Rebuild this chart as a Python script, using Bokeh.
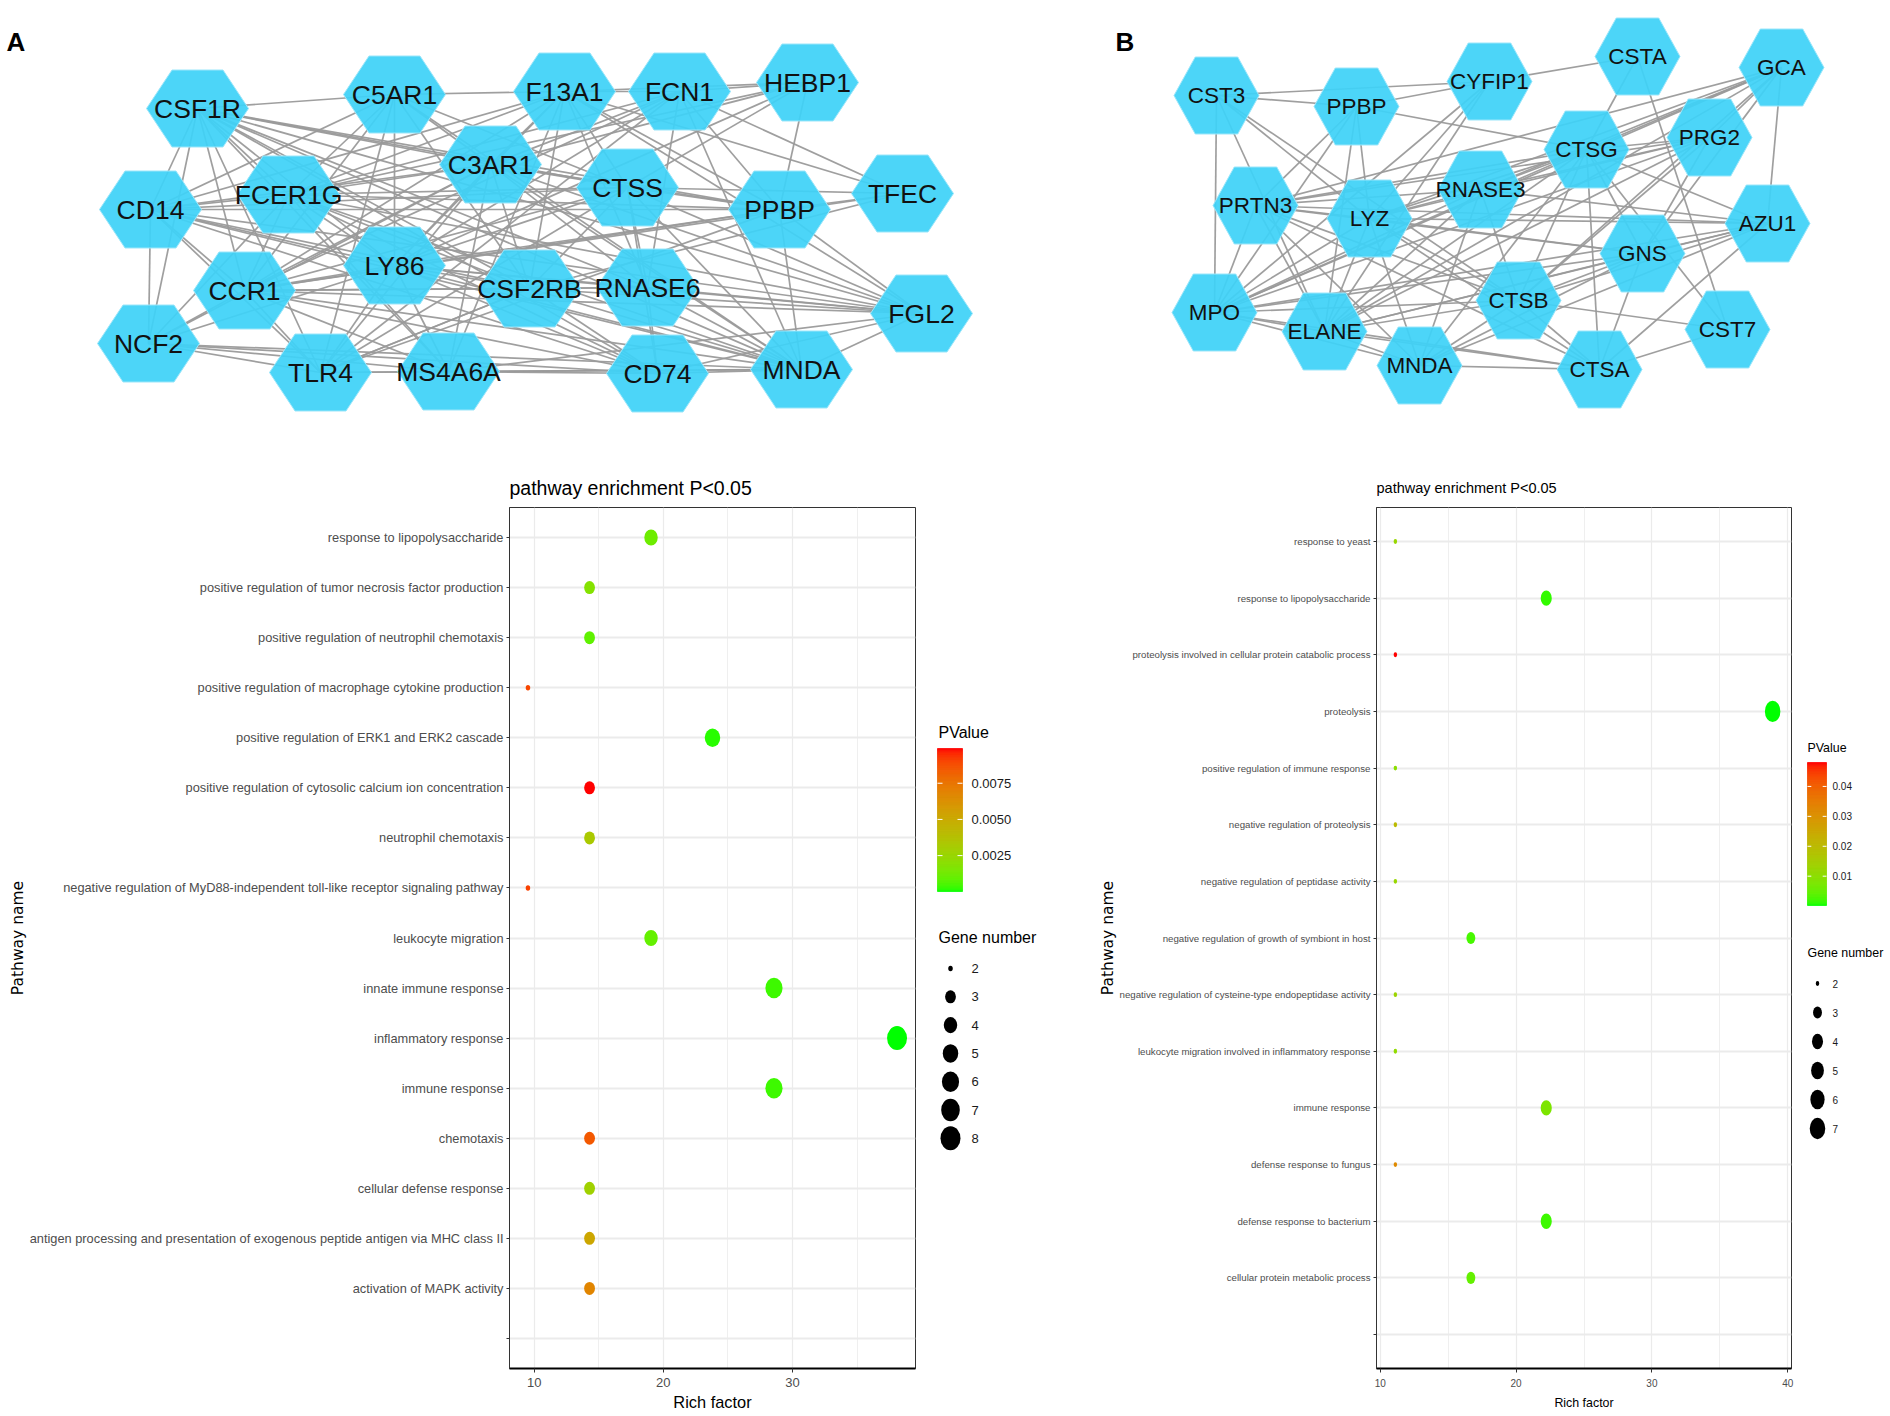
import numpy as np
from bokeh.plotting import figure
from bokeh.models import ColumnDataSource, Range1d, FixedTicker
from bokeh.layouts import column, row
from bokeh.transform import linear_cmap
from bokeh.core.properties import value
from bokeh.embed import file_html
from bokeh.resources import INLINE

# ---------------- network A ----------------
A_nodes = ["CSF1R", "C5AR1", "F13A1", "FCN1", "HEBP1", "C3AR1", "CTSS", "CD14", "FCER1G",
           "PPBP", "TFEC", "LY86", "CCR1", "CSF2RB", "RNASE6", "FGL2", "NCF2", "TLR4",
           "MS4A6A", "CD74", "MNDA"]
A_node_x = [197, 394, 564, 679, 807, 490, 627, 150, 288, 779, 902, 394, 244, 529, 647, 921,
            148, 320, 448, 657, 801]
A_node_y = [108, 94, 91, 91, 82, 164, 187, 209, 194, 209, 193, 265, 290, 288, 287, 313,
            343, 372, 371, 373, 369]
A_edges = [
    ("CSF1R", "C5AR1"), ("CSF1R", "CD14"), ("CSF1R", "CCR1"), ("CSF1R", "FCER1G"), ("CSF1R", "LY86"),
    ("CSF1R", "C3AR1"), ("CSF1R", "CTSS"), ("CSF1R", "PPBP"), ("CSF1R", "TLR4"), ("CSF1R", "MS4A6A"),
    ("CSF1R", "CSF2RB"), ("CSF1R", "RNASE6"), ("CSF1R", "FGL2"), ("CSF1R", "MNDA"), ("CSF1R", "CD74"),
    ("CSF1R", "NCF2"),
    ("C5AR1", "F13A1"), ("C5AR1", "C3AR1"), ("C5AR1", "FCER1G"), ("C5AR1", "LY86"), ("C5AR1", "CCR1"),
    ("C5AR1", "CD14"), ("C5AR1", "CTSS"), ("C5AR1", "CSF2RB"), ("C5AR1", "TLR4"), ("C5AR1", "MNDA"),
    ("F13A1", "FCN1"), ("F13A1", "HEBP1"), ("F13A1", "C3AR1"), ("F13A1", "CTSS"), ("F13A1", "FCER1G"),
    ("F13A1", "LY86"), ("F13A1", "CCR1"), ("F13A1", "CSF2RB"), ("F13A1", "RNASE6"), ("F13A1", "PPBP"),
    ("F13A1", "TFEC"), ("F13A1", "FGL2"), ("F13A1", "MS4A6A"), ("F13A1", "CD14"),
    ("FCN1", "HEBP1"), ("FCN1", "C3AR1"), ("FCN1", "FCER1G"), ("FCN1", "LY86"), ("FCN1", "CCR1"),
    ("FCN1", "RNASE6"), ("FCN1", "TFEC"), ("FCN1", "PPBP"), ("FCN1", "MNDA"), ("FCN1", "TLR4"),
    ("HEBP1", "PPBP"), ("HEBP1", "CTSS"), ("HEBP1", "C3AR1"), ("HEBP1", "FCER1G"), ("HEBP1", "LY86"),
    ("C3AR1", "CTSS"), ("C3AR1", "LY86"), ("C3AR1", "FCER1G"), ("C3AR1", "CCR1"), ("C3AR1", "CSF2RB"),
    ("C3AR1", "RNASE6"), ("C3AR1", "CD14"), ("C3AR1", "NCF2"), ("C3AR1", "TLR4"), ("C3AR1", "MS4A6A"),
    ("C3AR1", "MNDA"), ("C3AR1", "FGL2"), ("C3AR1", "PPBP"),
    ("CTSS", "RNASE6"), ("CTSS", "LY86"), ("CTSS", "CCR1"), ("CTSS", "CSF2RB"), ("CTSS", "FCER1G"),
    ("CTSS", "PPBP"), ("CTSS", "TFEC"), ("CTSS", "FGL2"), ("CTSS", "MNDA"), ("CTSS", "CD74"),
    ("CTSS", "CD14"), ("CTSS", "TLR4"),
    ("CD14", "FCER1G"), ("CD14", "LY86"), ("CD14", "CCR1"), ("CD14", "CSF2RB"), ("CD14", "MNDA"),
    ("CD14", "FGL2"), ("CD14", "TLR4"), ("CD14", "CD74"), ("CD14", "PPBP"), ("CD14", "NCF2"),
    ("FCER1G", "LY86"), ("FCER1G", "CCR1"), ("FCER1G", "PPBP"), ("FCER1G", "MNDA"), ("FCER1G", "FGL2"),
    ("FCER1G", "CD74"), ("FCER1G", "MS4A6A"), ("FCER1G", "NCF2"), ("FCER1G", "CSF2RB"),
    ("PPBP", "TFEC"), ("PPBP", "FGL2"), ("PPBP", "MNDA"), ("PPBP", "LY86"), ("PPBP", "TLR4"),
    ("PPBP", "CCR1"), ("TFEC", "CCR1"), ("TFEC", "CSF2RB"),
    ("LY86", "CCR1"), ("LY86", "CSF2RB"), ("LY86", "RNASE6"), ("LY86", "TLR4"), ("LY86", "MS4A6A"),
    ("LY86", "CD74"), ("LY86", "MNDA"), ("LY86", "FGL2"), ("LY86", "NCF2"),
    ("CCR1", "CSF2RB"), ("CCR1", "RNASE6"), ("CCR1", "NCF2"), ("CCR1", "TLR4"), ("CCR1", "MS4A6A"),
    ("CCR1", "CD74"), ("CCR1", "MNDA"), ("CCR1", "FGL2"),
    ("CSF2RB", "RNASE6"), ("CSF2RB", "CD74"), ("CSF2RB", "MNDA"), ("CSF2RB", "FGL2"), ("CSF2RB", "TLR4"),
    ("RNASE6", "MNDA"), ("RNASE6", "FGL2"), ("RNASE6", "CD74"),
    ("FGL2", "MNDA"), ("FGL2", "CD74"), ("FGL2", "MS4A6A"),
    ("NCF2", "TLR4"), ("NCF2", "MS4A6A"), ("NCF2", "CD74"), ("NCF2", "MNDA"),
    ("TLR4", "MS4A6A"), ("TLR4", "CSF2RB"), ("TLR4", "MNDA"),
    ("MS4A6A", "CD74"), ("MS4A6A", "MNDA"), ("CD74", "MNDA"),
]

# ---------------- network B ----------------
B_nodes = ["CST3", "PPBP", "CYFIP1", "CSTA", "GCA", "PRG2", "CTSG", "RNASE3", "PRTN3", "LYZ",
           "AZU1", "GNS", "CTSB", "MPO", "ELANE", "MNDA", "CTSA", "CST7"]
B_node_x = [1216, 1356, 1489, 1637, 1781, 1709, 1586, 1480, 1255, 1369, 1767, 1642, 1518,
            1214, 1324, 1419, 1599, 1727]
B_node_y = [95, 106, 81, 56, 67, 137, 149, 189, 205, 218, 223, 253, 300, 312, 331, 365, 369, 329]
B_edges = [
    ("CST3", "PPBP"), ("CST3", "CYFIP1"), ("CST3", "MPO"), ("CST3", "LYZ"), ("CST3", "CTSB"),
    ("CST3", "ELANE"),
    ("PPBP", "CYFIP1"), ("PPBP", "CTSG"), ("PPBP", "PRTN3"), ("PPBP", "LYZ"), ("PPBP", "ELANE"),
    ("PPBP", "MPO"),
    ("CYFIP1", "CSTA"), ("CYFIP1", "LYZ"), ("CYFIP1", "ELANE"), ("CYFIP1", "MPO"),
    ("CSTA", "CTSG"), ("CSTA", "CST7"),
    ("GCA", "AZU1"), ("GCA", "CTSG"), ("GCA", "PRG2"), ("GCA", "RNASE3"), ("GCA", "LYZ"),
    ("GCA", "PRTN3"), ("GCA", "MPO"), ("GCA", "ELANE"), ("GCA", "GNS"), ("GCA", "CTSB"),
    ("PRG2", "CTSG"), ("PRG2", "RNASE3"), ("PRG2", "LYZ"), ("PRG2", "MPO"), ("PRG2", "ELANE"),
    ("PRG2", "CTSB"), ("PRG2", "GNS"), ("PRG2", "PRTN3"),
    ("CTSG", "RNASE3"), ("CTSG", "LYZ"), ("CTSG", "PRTN3"), ("CTSG", "MPO"), ("CTSG", "ELANE"),
    ("CTSG", "AZU1"), ("CTSG", "GNS"), ("CTSG", "CTSB"), ("CTSG", "CTSA"), ("CTSG", "MNDA"),
    ("RNASE3", "LYZ"), ("RNASE3", "PRTN3"), ("RNASE3", "MPO"), ("RNASE3", "AZU1"), ("RNASE3", "ELANE"),
    ("RNASE3", "CTSB"), ("RNASE3", "MNDA"),
    ("PRTN3", "LYZ"), ("PRTN3", "MPO"), ("PRTN3", "ELANE"), ("PRTN3", "AZU1"), ("PRTN3", "GNS"),
    ("PRTN3", "MNDA"), ("PRTN3", "CTSA"), ("PRTN3", "CTSB"),
    ("LYZ", "AZU1"), ("LYZ", "MPO"), ("LYZ", "ELANE"), ("LYZ", "GNS"), ("LYZ", "CTSB"),
    ("LYZ", "MNDA"), ("LYZ", "CTSA"),
    ("AZU1", "MPO"), ("AZU1", "ELANE"), ("AZU1", "GNS"), ("AZU1", "CTSB"), ("AZU1", "CTSA"),
    ("AZU1", "MNDA"),
    ("GNS", "CTSB"), ("GNS", "CTSA"), ("GNS", "MPO"), ("GNS", "ELANE"), ("GNS", "MNDA"),
    ("CTSB", "MPO"), ("CTSB", "ELANE"), ("CTSB", "MNDA"), ("CTSB", "CTSA"), ("CTSB", "CST7"),
    ("MPO", "ELANE"), ("MPO", "MNDA"), ("MPO", "CTSA"),
    ("ELANE", "MNDA"), ("ELANE", "CTSA"), ("MNDA", "CTSA"),
    ("CTSA", "CST7"), ("CST7", "CTSG"),
]

# ---------------- enrichment A ----------------
A_terms = [
    "response to lipopolysaccharide",
    "positive regulation of tumor necrosis factor production",
    "positive regulation of neutrophil chemotaxis",
    "positive regulation of macrophage cytokine production",
    "positive regulation of ERK1 and ERK2 cascade",
    "positive regulation of cytosolic calcium ion concentration",
    "neutrophil chemotaxis",
    "negative regulation of MyD88-independent toll-like receptor signaling pathway",
    "leukocyte migration",
    "innate immune response",
    "inflammatory response",
    "immune response",
    "chemotaxis",
    "cellular defense response",
    "antigen processing and presentation of exogenous peptide antigen via MHC class II",
    "activation of MAPK activity",
]
A_genes = [4, 3, 3, 2, 5, 3, 3, 2, 4, 6, 8, 6, 3, 3, 3, 3]
A_rich = [19.05, 14.29, 14.29, 9.52, 23.81, 14.29, 14.29, 9.52, 19.05, 28.57, 38.10, 28.57,
          14.29, 14.29, 14.29, 14.29]
A_pvalue = [0.0012, 0.0018, 0.0009, 0.0090, 0.0002, 0.0099, 0.0033, 0.0091, 0.0010, 0.0004,
            0.00002, 0.0004, 0.0085, 0.0028, 0.0052, 0.0068]
A_pticks = [0.0025, 0.0050, 0.0075]
A_xticks = [10, 20, 30]

# ---------------- enrichment B ----------------
B_terms = [
    "response to yeast",
    "response to lipopolysaccharide",
    "proteolysis involved in cellular protein catabolic process",
    "proteolysis",
    "positive regulation of immune response",
    "negative regulation of proteolysis",
    "negative regulation of peptidase activity",
    "negative regulation of growth of symbiont in host",
    "negative regulation of cysteine-type endopeptidase activity",
    "leukocyte migration involved in inflammatory response",
    "immune response",
    "defense response to fungus",
    "defense response to bacterium",
    "cellular protein metabolic process",
]
B_genes = [2, 4, 2, 7, 2, 2, 2, 3, 2, 2, 4, 2, 4, 3]
B_rich = [11.11, 22.22, 11.11, 38.89, 11.11, 11.11, 11.11, 16.67, 11.11, 11.11, 22.22, 11.11,
          22.22, 16.67]
B_pvalue = [0.012, 0.0015, 0.048, 0.0002, 0.010, 0.020, 0.012, 0.0025, 0.013, 0.011, 0.008,
            0.032, 0.002, 0.005]
B_pticks = [0.01, 0.02, 0.03, 0.04]
B_xticks = [10, 20, 30, 40]

# ---------------- colour ramp green -> red in CIELAB (as ggplot) ----------------
_M = np.array([[0.4124564, 0.3575761, 0.1804375],
               [0.2126729, 0.7151522, 0.0721750],
               [0.0193339, 0.1191920, 0.9503041]])
_WP = np.array([0.95047, 1.0, 1.08883])


def to_lab(rgb):
    c = np.asarray(rgb, float) / 255.0
    lin = np.where(c <= 0.04045, c / 12.92, ((c + 0.055) / 1.055) ** 2.4)
    t = (_M @ lin) / _WP
    f = np.where(t > (6 / 29) ** 3, np.cbrt(t), t / (3 * (6 / 29) ** 2) + 4 / 29)
    return np.array([116 * f[1] - 16, 500 * (f[0] - f[1]), 200 * (f[1] - f[2])])


def lab_hex(lab):
    L, a, b = lab
    fy = (L + 16) / 116
    f = np.array([fy + a / 500, fy, fy - b / 200])
    t = np.where(f > 6 / 29, f ** 3, 3 * (6 / 29) ** 2 * (f - 4 / 29))
    lin = np.clip(np.linalg.inv(_M) @ (t * _WP), 0, 1)
    c = np.where(lin <= 0.0031308, 12.92 * lin, 1.055 * lin ** (1 / 2.4) - 0.055)
    return "#%02x%02x%02x" % tuple(int(round(v * 255)) for v in np.clip(c, 0, 1))


_g, _r = to_lab((0, 255, 0)), to_lab((255, 0, 0))
PAL = [lab_hex(_g + (_r - _g) * k / 255) for k in range(256)]

SANS = "Liberation Sans"

# ---------------- network figure ----------------
NET_H = 453
net = figure(width=1890, height=NET_H, x_range=Range1d(0, 1890), y_range=Range1d(NET_H, 0),
             x_axis_type=None, y_axis_type=None, min_border=0, toolbar_location=None,
             output_backend="svg")
net.grid.visible = False
net.outline_line_color = None


def draw_network(fig, names, xs, ys, edges, w, h, fsize):
    pos = {n: (x, y) for n, x, y in zip(names, xs, ys)}
    es = ColumnDataSource(dict(x0=[pos[a][0] for a, b in edges], y0=[pos[a][1] for a, b in edges],
                               x1=[pos[b][0] for a, b in edges], y1=[pos[b][1] for a, b in edges]))
    fig.segment("x0", "y0", "x1", "y1", source=es, line_color="#9a9a9a", line_width=1.7,
                line_alpha=0.95)
    hx = [[x - w / 2, x - w / 4, x + w / 4, x + w / 2, x + w / 4, x - w / 4] for x in xs]
    hy = [[y, y - h / 2, y - h / 2, y, y + h / 2, y + h / 2] for y in ys]
    fig.patches(hx, hy, fill_color="#3ed2f7", fill_alpha=0.93, line_color="#9be6fa",
                line_width=1)
    fig.text(xs, ys, text=names, text_font=value(SANS), text_font_size=value(fsize),
             text_align="center", text_baseline="middle", text_color="#111111")


draw_network(net, A_nodes, A_node_x, A_node_y, A_edges, 102, 77, "26.5px")
draw_network(net, B_nodes, B_node_x, B_node_y, B_edges, 85, 77, "22.5px")
net.text([6, 1115], [41, 41], text=["A", "B"], text_font=value(SANS),
         text_font_size=value("26px"), text_font_style="bold", text_baseline="middle",
         text_color="black")

# ---------------- dot plots ----------------
FIG_H = 1416 - NET_H
TOP, FRAME_H = 54, 861
BOTTOM = FIG_H - TOP - FRAME_H


def size_map(g, gmin, gmax, a, b):
    return a + b * np.sqrt((np.asarray(g, float) - gmin) / (gmax - gmin))


def dot_panel(terms, genes, rich, pvals, xticks, width, left, right, fs, cfg):
    n = len(terms) + 1
    lo, hi = min(rich), max(rich)
    pad = 0.05 * (hi - lo)
    p = figure(width=width, height=FIG_H, x_range=Range1d(lo - pad, hi + pad),
               y_range=Range1d(0.4, n + 0.6), min_border_left=left, min_border_right=right,
               min_border_top=TOP, min_border_bottom=BOTTOM, toolbar_location=None,
               output_backend="svg")
    p.title.text = "pathway enrichment P<0.05"
    p.title.align = "left"
    p.title.offset = 0
    p.title.standoff = cfg["title_standoff"]
    p.title.text_font = SANS
    p.title.text_font_size = fs["title"]
    p.title.text_font_style = "normal"
    p.title.text_color = "black"
    p.outline_line_color = "#333333"
    p.outline_line_width = 1
    gmin, gmax = min(genes), max(genes)
    w = size_map(genes, gmin, gmax, *cfg["size"])
    src = ColumnDataSource(dict(x=rich, y=[n - i for i in range(len(terms))], p=pvals,
                                w=w, h=w * cfg["aspect"]))
    p.ellipse(x="x", y="y", width="w", height="h", width_units="screen", height_units="screen",
              fill_color=linear_cmap("p", PAL, min(pvals), max(pvals)), line_color=None,
              source=src)
    ax = p.xaxis[0]
    minor = [t + 5 for t in xticks if t + 5 < hi + pad]
    ax.ticker = FixedTicker(ticks=xticks, minor_ticks=minor)
    ax.minor_tick_line_color = None
    ax.major_tick_in = 0
    ax.major_tick_out = 4
    ax.major_tick_line_color = "#333333"
    ax.axis_line_color = "black"
    ax.axis_line_width = 2
    ax.major_label_text_font = SANS
    ax.major_label_text_font_size = fs["xtick"]
    ax.major_label_text_color = "#4d4d4d"
    ax.major_label_standoff = cfg["xtick_standoff"]
    ax.axis_label = "Rich factor"
    ax.axis_label_text_font = SANS
    ax.axis_label_text_font_size = fs["xlab"]
    ax.axis_label_text_font_style = "normal"
    ax.axis_label_text_color = "black"
    ax.axis_label_standoff = cfg["xlab_standoff"]
    ay = p.yaxis[0]
    ay.ticker = FixedTicker(ticks=list(range(1, n + 1)))
    ay.major_label_overrides = {**{n - i: t for i, t in enumerate(terms)}, 1: ""}
    ay.minor_tick_line_color = None
    ay.major_tick_in = 0
    ay.major_tick_out = 3
    ay.major_tick_line_color = "#333333"
    ay.axis_line_color = "#333333"
    ay.axis_line_width = 1
    ay.major_label_text_font = SANS
    ay.major_label_text_font_size = fs["ytick"]
    ay.major_label_text_color = "#4d4d4d"
    ay.major_label_standoff = 3
    ay.axis_label = "Pathway name"
    ay.axis_label_text_font = "DejaVu Sans"
    ay.axis_label_text_font_size = "15.5px"
    ay.axis_label_text_font_style = "normal"
    ay.axis_label_text_color = "black"
    ay.axis_label_standoff = cfg["ylab_standoff"]
    p.xgrid.grid_line_color = "#ebebeb"
    p.xgrid.grid_line_width = 1.2
    p.xgrid.minor_grid_line_color = "#ebebeb"
    p.xgrid.minor_grid_line_width = 0.8
    p.ygrid.grid_line_color = "#ebebeb"
    p.ygrid.grid_line_width = 2
    return p


# legend panels share the dot plots' frame rows; their y data = page pixels
FRAME_TOP = NET_H + TOP


def legend_panel(x0, width, genes, pvals, pticks, fmt, fs, cfg):
    lg = figure(width=width, height=FIG_H, x_range=Range1d(x0, x0 + width),
                y_range=Range1d(FRAME_TOP + FRAME_H, FRAME_TOP), x_axis_type=None,
                y_axis_type=None, min_border_left=0, min_border_right=0, min_border_top=TOP,
                min_border_bottom=BOTTOM, toolbar_location=None, output_backend="svg")
    lg.grid.visible = False
    lg.outline_line_color = None
    lo, hi = min(pvals), max(pvals)
    bx0, bx1, btop, bbot = cfg["bar"]
    # colour bar: the palette spread from low (bottom) to high (top)
    k = len(PAL)
    ed = np.linspace(bbot, btop, k + 1)
    lg.quad(left=[bx0] * k, right=[bx1] * k, bottom=list(ed[:-1]), top=list(ed[1:]),
            fill_color=PAL, line_color=PAL, line_width=0.6)
    ty = [bbot - (v - lo) / (hi - lo) * (bbot - btop) for v in pticks]
    tl = (bx1 - bx0) / 5
    lg.segment(x0=[bx0] * len(ty), y0=ty, x1=[bx0 + tl] * len(ty), y1=ty, line_color="white",
               line_width=1)
    lg.segment(x0=[bx1 - tl] * len(ty), y0=ty, x1=[bx1] * len(ty), y1=ty, line_color="white",
               line_width=1)
    lg.text([cfg["label_x"]] * len(ty), ty, text=[fmt % v for v in pticks], text_font=value(SANS),
            text_font_size=value(fs["llabel"]), text_baseline="middle", text_color="#1a1a1a")
    lg.text([cfg["left"], cfg["left"]], [cfg["pv_title_y"], cfg["gene_title_y"]],
            text=["PValue", "Gene number"], text_font=value(SANS),
            text_font_size=value(fs["ltitle"]), text_baseline="middle", text_color="black")
    breaks = list(range(min(genes), max(genes) + 1))
    w = size_map(breaks, min(genes), max(genes), *cfg["size"])
    ys = [cfg["dot_y0"] + cfg["dot_dy"] * i for i in range(len(breaks))]
    lg.ellipse(x=[cfg["dot_x"]] * len(breaks), y=ys, width=w, height=w * cfg["aspect"],
               width_units="screen", height_units="screen", fill_color="black", line_color=None)
    lg.text([cfg["label_x"]] * len(breaks), ys, text=[str(b) for b in breaks],
            text_font=value(SANS), text_font_size=value(fs["llabel"]), text_baseline="middle",
            text_color="#1a1a1a")
    return lg


fsA = dict(title="19.5px", xtick="13px", ytick="12.8px", xlab="16.4px", ltitle="16px",
           llabel="13px")
fsB = dict(title="14.5px", xtick="10px", ytick="9.7px", xlab="12.4px", ltitle="12.4px",
           llabel="10px")

pA = dot_panel(A_terms, A_genes, A_rich, A_pvalue, A_xticks, 928, 509, 13, fsA,
               dict(title_standoff=18, size=(4.5, 15.5), aspect=1.2, xtick_standoff=5,
                    xlab_standoff=3, ylab_standoff=0))
legA = legend_panel(928, 140, A_genes, A_pvalue, A_pticks, "%.4f", fsA,
                    dict(bar=(937, 962, 748, 891), label_x=971, left=938, pv_title_y=732,
                         gene_title_y=937, dot_x=950, dot_y0=968, dot_dy=28.3,
                         size=(4.5, 15.5), aspect=1.2))
pB = dot_panel(B_terms, B_genes, B_rich, B_pvalue, B_xticks, 735, 308, 12, fsB,
               dict(title_standoff=23, size=(3.5, 12.0), aspect=1.38, xtick_standoff=6,
                    xlab_standoff=6, ylab_standoff=0))
legB = legend_panel(1803, 87, B_genes, B_pvalue, B_pticks, "%.2f", fsB,
                    dict(bar=(1807, 1826, 762, 905), label_x=1832, left=1807, pv_title_y=747,
                         gene_title_y=952, dot_x=1817, dot_y0=983, dot_dy=29,
                         size=(3.5, 12.0), aspect=1.38))

layout = column(net, row(pA, legA, pB, legB))
open("out.html", "w").write(file_html(layout, INLINE))
